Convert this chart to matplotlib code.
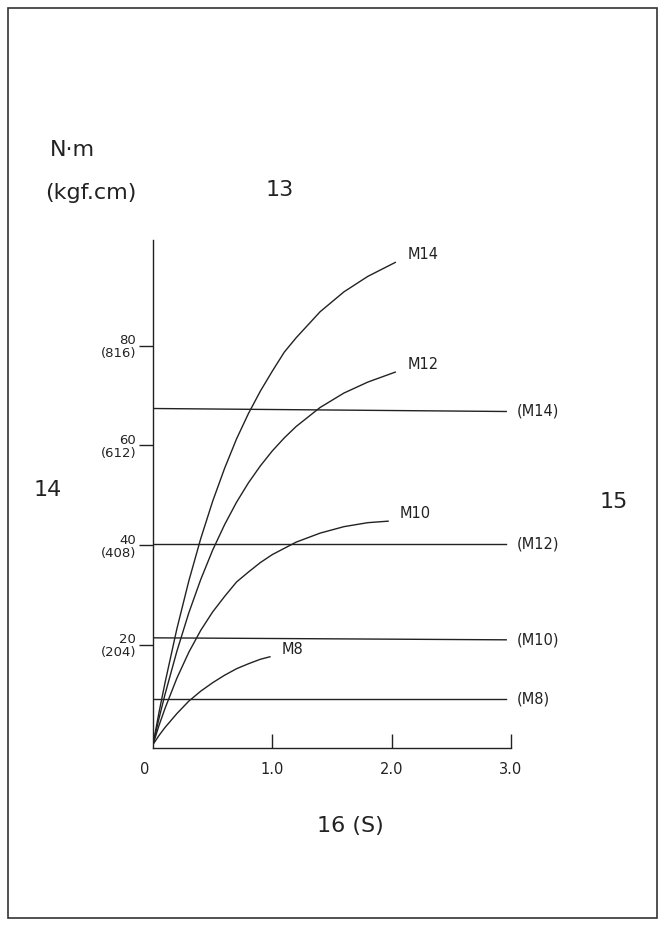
import matplotlib
matplotlib.use("Agg")
import matplotlib.pyplot as plt
from matplotlib.patches import Rectangle

# data
m14_x = [0, 0.05, 0.1, 0.2, 0.3, 0.4, 0.5, 0.6, 0.7, 0.8, 0.9, 1.0, 1.1, 1.2, 1.4, 1.6, 1.8, 2.03]
m14_y = [0, 6.4, 12.3, 23.2, 32.8, 41.3, 48.8, 55.4, 61.3, 66.4, 70.9, 74.9, 78.7, 81.6, 86.8, 90.8, 93.9, 96.7]
m12_x = [0, 0.05, 0.1, 0.2, 0.3, 0.4, 0.5, 0.6, 0.7, 0.8, 0.9, 1.0, 1.1, 1.2, 1.4, 1.6, 1.8, 2.03]
m12_y = [0, 5.2, 10.0, 18.7, 26.4, 33.1, 39.0, 44.1, 48.6, 52.5, 55.9, 58.9, 61.5, 63.8, 67.6, 70.5, 72.7, 74.7]
m10_x = [0, 0.05, 0.1, 0.2, 0.3, 0.4, 0.5, 0.6, 0.7, 0.8, 0.9, 1.0, 1.2, 1.4, 1.6, 1.8, 1.97]
m10_y = [0, 3.8, 7.2, 13.3, 18.5, 22.9, 26.6, 29.7, 32.6, 34.6, 36.5, 38.1, 40.6, 42.4, 43.7, 44.5, 44.8]
m8_x = [0, 0.05, 0.1, 0.2, 0.3, 0.4, 0.5, 0.6, 0.7, 0.8, 0.9, 0.98]
m8_y = [0, 1.8, 3.4, 6.2, 8.7, 10.7, 12.4, 13.9, 15.2, 16.2, 17.1, 17.6]
curve_names = ["M14", "M12", "M10", "M8"]
hline_names = ["(M14)", "(M12)", "(M10)", "(M8)"]
hline_left = [67.4, 40.2, 21.4, 9.2]
hline_right = [66.8, 40.2, 21.0, 9.2]
y_ticks = [20, 40, 60, 80]
y_labels = ["20\n(204)", "40\n(408)", "60\n(612)", "80\n(816)"]
x_ticks = [1.0, 2.0, 3.0]
x_labels = ["1.0", "2.0", "3.0"]

fig = plt.figure(figsize=(6.65, 9.26), dpi=100)
fig.patches.append(Rectangle((8/665, 1-918/926), 649/665, 910/926, transform=fig.transFigure,
                             fill=False, edgecolor="#333333", lw=1.2))
ax = fig.add_axes([153/665, 1-748/926, 358/665, 508/926])
ax.set_xlim(0, 3)
ax.set_ylim(-0.7, 101.2)
ax.patch.set_alpha(0)
for s in ["top", "right"]:
    ax.spines[s].set_visible(False)
for s in ["left", "bottom"]:
    ax.spines[s].set_linewidth(1.0)
    ax.spines[s].set_color("#222222")

lc = "#222222"
curves = [(m14_x, m14_y), (m12_x, m12_y), (m10_x, m10_y), (m8_x, m8_y)]
for (xs, ys), name in zip(curves, curve_names):
    ax.plot(xs, ys, color=lc, lw=1.0, solid_joinstyle="round")
    ax.text(xs[-1] + 0.1, ys[-1] + 1.5, name, fontsize=10.5, va="center", ha="left", color=lc)
for yl, yr, name in zip(hline_left, hline_right, hline_names):
    ax.plot([0, 2.96], [yl, yr], color=lc, lw=1.0)
    ax.text(3.05, yr, name, fontsize=10.5, va="center", ha="left", color=lc)

ax.set_yticks(y_ticks)
ax.set_yticklabels(y_labels, fontsize=9.5, linespacing=1.0)
ax.tick_params(axis="y", direction="out", length=10, width=1, pad=2, colors=lc)
ax.set_xticks(x_ticks)
ax.set_xticklabels(x_labels, fontsize=10.5)
ax.tick_params(axis="x", direction="in", length=10, width=1, pad=10, colors=lc)
ax.text(-0.07, -3.5, "0", fontsize=10.5, ha="center", va="top", color=lc)

fig.text(50/665, 1-150/926, "N·m", fontsize=16, va="center", ha="left", color=lc)
fig.text(45/665, 1-193/926, "(kgf.cm)", fontsize=16, va="center", ha="left", color=lc)
fig.text(280/665, 1-190/926, "13", fontsize=16, va="center", ha="center", color=lc)
fig.text(48/665, 1-490/926, "14", fontsize=16, va="center", ha="center", color=lc)
fig.text(614/665, 1-502/926, "15", fontsize=16, va="center", ha="center", color=lc)
fig.text(350/665, 1-826/926, "16 (S)", fontsize=16, va="center", ha="center", color=lc)

fig.savefig("out.png", dpi=100)
